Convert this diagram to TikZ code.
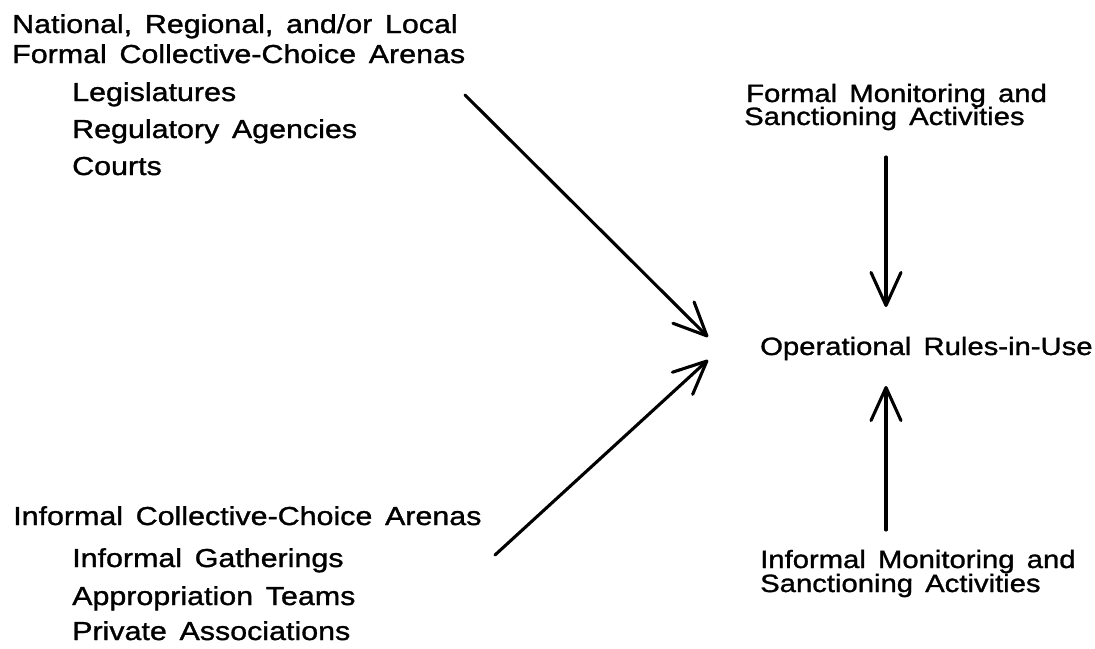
\documentclass[tikz,border=0pt]{standalone}
\usepackage{fontspec}
\setmainfont{Liberation Sans}
\newfontfamily\lab{Liberation Sans}[FakeStretch=1.17,FakeBold=1.2]
\newfontfamily\labw{Liberation Sans}[FakeStretch=1.17,FakeBold=1.2,WordSpace=1.5]
\usetikzlibrary{arrows.meta}
\begin{document}
\begin{tikzpicture}[x=1pt,y=-1pt,
  lefttext/.style={anchor=base west,inner sep=0pt,font=\labw\fontsize{26}{30}\selectfont},
  righttext/.style={anchor=base west,inner sep=0pt,font=\lab\fontsize{25}{29}\selectfont},
  flow/.style={line width=3.1pt,line cap=round,
    -{Straight Barb[length=33pt,width=30pt,round]}}]
\useasboundingbox (0,0) rectangle (1095,648);

% formal collective-choice arenas
\node[lefttext] (f1) at (12,33) {National, Regional, and/or Local};
\node[lefttext] (f2) at (12,63) {Formal Collective-Choice Arenas};
\node[lefttext] (f3) at (72,101) {Legislatures};
\node[lefttext] (f4) at (72,138) {Regulatory Agencies};
\node[lefttext] (f5) at (72,175) {Courts};

% informal collective-choice arenas
\node[lefttext] (i1) at (13,525) {Informal Collective-Choice Arenas};
\node[lefttext] (i2) at (72,567) {Informal Gatherings};
\node[lefttext] (i3) at (72,605) {Appropriation Teams};
\node[lefttext] (i4) at (72,640) {Private Associations};

% monitoring and sanctioning
\node[righttext] (m1) at (746,102) {Formal Monitoring and};
\node[righttext] (m2) at (744,125) {Sanctioning Activities};
\node[righttext] (n1) at (760,568) {Informal Monitoring and};
\node[righttext] (n2) at (760,592) {Sanctioning Activities};

% outcome
\node[righttext] (ops) at (760,355) {Operational Rules-in-Use};

% connector ends
\coordinate (fStart) at (465,95);
\coordinate (fEnd) at (708,337);
\coordinate (iStart) at (495,555);
\coordinate (iEnd) at (708,360);
\coordinate (mStart) at (886,157);
\coordinate (mEnd) at (886,307);
\coordinate (nStart) at (886,530);
\coordinate (nEnd) at (886,386);

\draw[flow] (fStart) -- (fEnd);
\draw[flow] (iStart) -- (iEnd);
\draw[flow] (mStart) -- (mEnd);
\draw[flow] (nStart) -- (nEnd);
\end{tikzpicture}
\end{document}
